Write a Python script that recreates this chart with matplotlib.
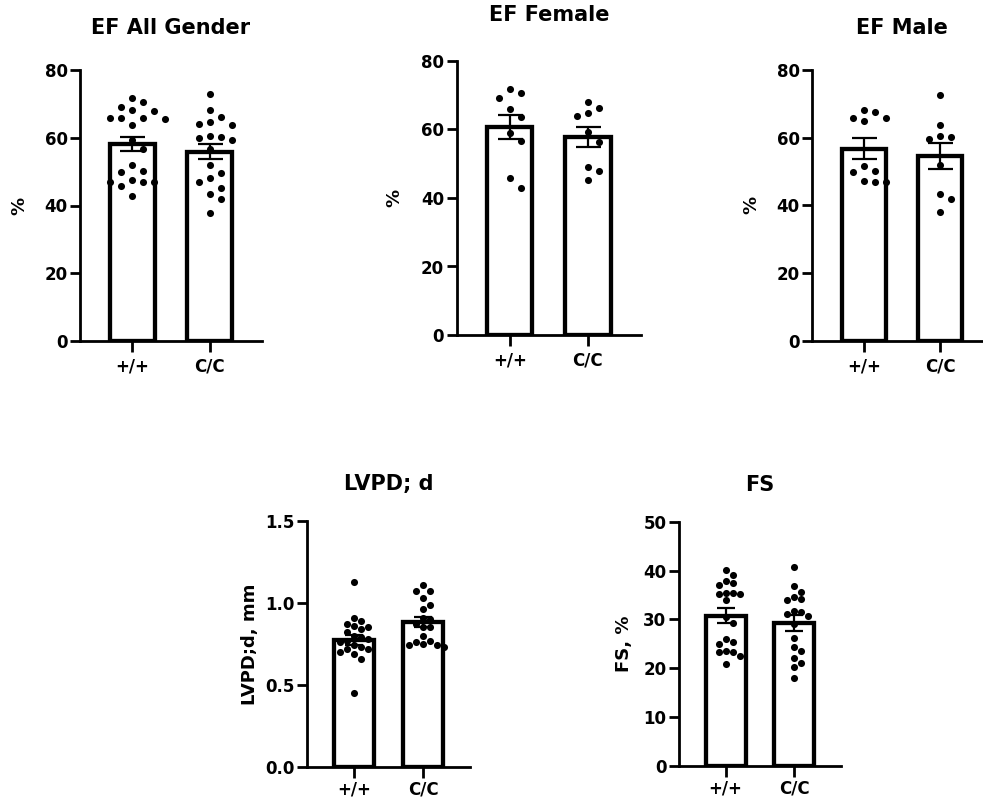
import numpy as np
from matplotlib import pyplot as plt

plt.rcParams['font.family'] = ['DejaVu Sans']
plt.rcParams['font.weight'] = 'bold'

groups = ['+/+', 'C/C']

# EF, all genders (%)
ef_all_wt = [71.6, 68.2, 69.2, 70.6, 67.9, 65.7, 65.9, 65.7, 65.4, 63.9, 59.3,
             56.7, 51.9, 49.9, 50.2, 47.0, 47.0, 47.5, 45.8, 47.0, 42.9]
ef_all_cc = [72.8, 68.2, 64.7, 63.7, 64.0, 66.2, 60.3, 59.3, 60.6, 59.8,
             56.6, 51.9, 49.5, 48.2, 47.0, 45.2, 43.5, 41.9, 37.9]
ef_all_mean = [58.1, 55.9]
ef_all_sem = [2.1, 2.3]

# EF, female
ef_f_wt = [71.7, 69.3, 70.8, 63.7, 65.9, 58.9, 56.6, 45.7, 42.8]
ef_f_cc = [66.4, 64.0, 68.1, 64.7, 59.2, 56.4, 49.1, 47.9, 45.3]
ef_f_mean = [60.6, 57.9]
ef_f_sem = [3.5, 2.9]

# EF, male
ef_m_wt = [67.7, 65.0, 65.7, 65.9, 68.2, 49.8, 46.8, 50.2, 46.8, 51.7, 47.3]
ef_m_cc = [72.6, 63.7, 60.3, 60.5, 59.6, 51.9, 41.9, 43.3, 37.9]
ef_m_mean = [56.8, 54.6]
ef_m_sem = [3.0, 3.9]

# LVPD;d (mm)
lvpd_wt = [1.13, 0.91, 0.89, 0.87, 0.86, 0.85, 0.84, 0.82, 0.80, 0.79, 0.78,
           0.77, 0.76, 0.74, 0.73, 0.72, 0.72, 0.70, 0.69, 0.66, 0.45]
lvpd_cc = [1.11, 1.07, 1.07, 1.03, 0.99, 0.96, 0.91, 0.90, 0.87, 0.85, 0.85,
           0.80, 0.77, 0.76, 0.75, 0.74, 0.74, 0.73]
lvpd_mean = [0.775, 0.883]
lvpd_sem = [0.03, 0.03]

# FS (%)
fs_wt = [40.2, 37.9, 39.0, 37.0, 37.4, 35.3, 35.5, 35.5, 35.3, 34.0,
         30.4, 29.2, 24.9, 25.3, 26.0, 23.3, 23.5, 23.4, 22.5, 20.8]
fs_cc = [40.8, 36.9, 35.7, 34.1, 34.0, 34.5, 31.7, 31.6, 30.7, 31.1,
         29.0, 26.1, 24.4, 23.6, 22.2, 21.1, 20.2, 18.1]
fs_mean = [30.8, 29.2]
fs_sem = [1.5, 1.65]

W, H = 983, 799


def swarm(ax, vals, diam):
    # simple beeswarm: offsets in data units computed in pixel space
    to_px = ax.transData
    px_per_x = to_px.transform((1, 0))[0] - to_px.transform((0, 0))[0]
    ys = [to_px.transform((0, v))[1] for v in vals]
    order = np.argsort(ys)[::-1]
    placed = []
    offs = np.zeros(len(vals))
    for i in order:
        k = 0
        while True:
            cands = [0.0] if k == 0 else [k * diam, -k * diam]
            ok = None
            for c in cands:
                if all((c - px) ** 2 + (ys[i] - py) ** 2 >= (0.95 * diam) ** 2
                       for px, py in placed):
                    ok = c
                    break
            if ok is not None:
                break
            k += 1
        placed.append((ok, ys[i]))
        offs[i] = ok / px_per_x
    return offs


def panel(box, title, ylabel, wt, cc, mean, sem, ymax, yticks, fmt,
          lab_x, diam, cap, tpad, xpad):
    l, r, t, b = box
    ax = fig.add_axes([l / W, 1 - b / H, (r - l) / W, (b - t) / H])
    ax.set_xlim(-0.68, 1.68)
    ax.set_ylim(0, ymax)
    x = np.arange(2)
    ax.bar(x, mean, width=0.58, color='white', edgecolor='black',
           linewidth=3.1, zorder=2)
    for j, vals in enumerate([wt, cc]):
        offs = swarm(ax, vals, diam)
        ax.scatter(j + offs, vals, s=26, color='black', zorder=3,
                   linewidths=0)
    ax.errorbar(x, mean, yerr=sem, fmt='none', ecolor='black',
                elinewidth=1.6, capsize=cap, capthick=1.6, zorder=4)
    ax.spines['top'].set_visible(False)
    ax.spines['right'].set_visible(False)
    for s in ['left', 'bottom']:
        ax.spines[s].set_linewidth(2.0)
    ax.set_yticks(yticks)
    ax.set_yticklabels([fmt.format(v) for v in yticks])
    ax.set_xticks(x)
    ax.set_xticklabels(groups)
    ax.tick_params(width=2.0, length=7, labelsize=12, pad=2)
    ax.tick_params(axis='x', length=8, pad=xpad)
    ax.set_title(title, fontsize=15, fontweight='bold', pad=tpad)
    ax.set_ylabel(ylabel, fontsize=13, fontweight='bold')
    # right edge of the rotated label, in figure pixels
    ax.yaxis.set_label_coords((lab_x - l) / (r - l), 0.5)
    return ax


fig = plt.figure(figsize=(W / 100, H / 100), dpi=100)

panel((80, 262, 70, 341), 'EF All Gender', '%', ef_all_wt, ef_all_cc,
      ef_all_mean, ef_all_sem, 80, [0, 20, 40, 60, 80], '{:.0f}', 28, 11, 9,
      26, 4)
panel((456.7, 641, 61, 335), 'EF Female', '%', ef_f_wt, ef_f_cc,
      ef_f_mean, ef_f_sem, 80, [0, 20, 40, 60, 80], '{:.0f}', 403, 11, 9,
      29, 4)
panel((812.3, 992, 70, 340.7), 'EF Male', '%', ef_m_wt, ef_m_cc,
      ef_m_mean, ef_m_sem, 80, [0, 20, 40, 60, 80], '{:.0f}', 760, 11, 9,
      26, 4)
panel((307.3, 470, 521, 766.7), 'LVPD; d', 'LVPD;d, mm', lvpd_wt, lvpd_cc,
      lvpd_mean, lvpd_sem, 1.5, [0.0, 0.5, 1.0, 1.5], '{:.1f}', 259, 7,
      6.5, 22, 2)
panel((679, 841, 521.7, 766), 'FS', 'FS, %', fs_wt, fs_cc,
      fs_mean, fs_sem, 50, [0, 10, 20, 30, 40, 50], '{:.0f}', 633, 7, 6.5,
      22, 2)

plt.savefig('out.png', dpi=100)
